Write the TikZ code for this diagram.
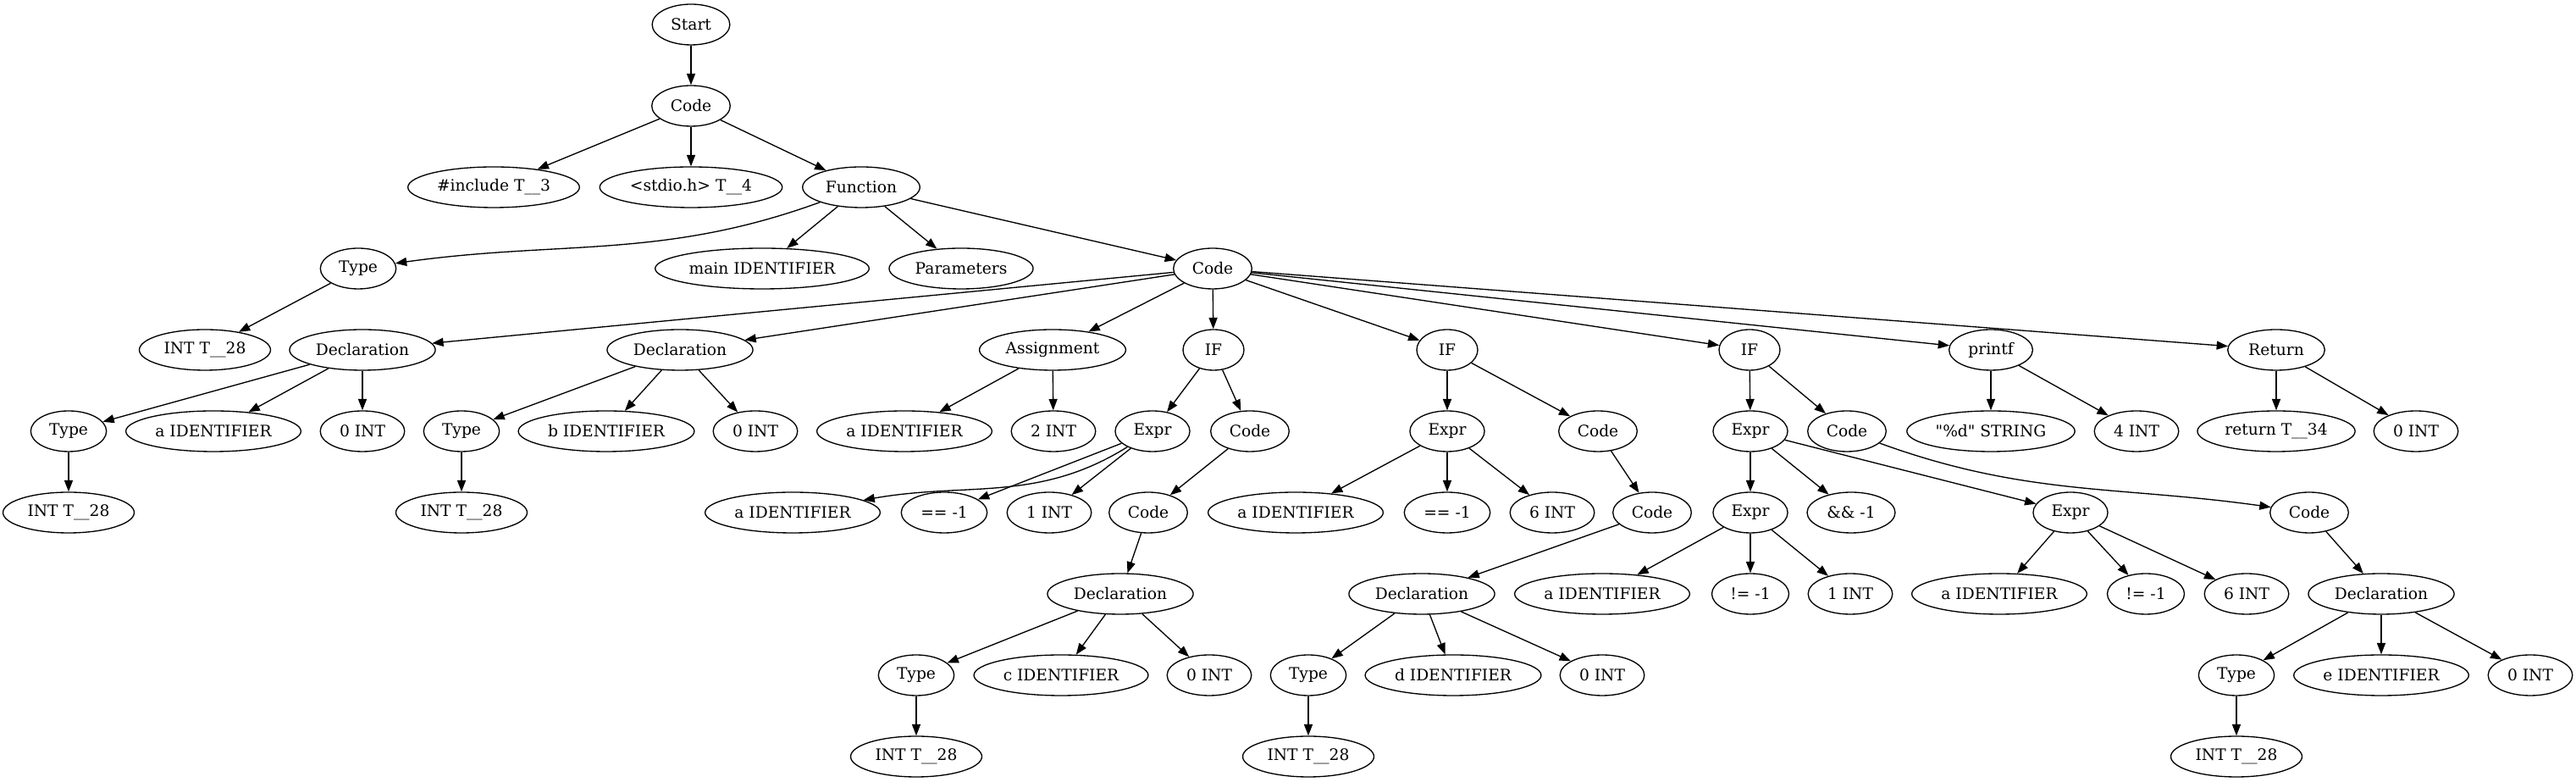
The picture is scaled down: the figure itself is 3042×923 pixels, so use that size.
\documentclass[tikz,border=0pt]{standalone}
\usepackage{fontspec}
\setmainfont{DejaVu Serif}
\usetikzlibrary{arrows.meta,shapes.geometric}
\tikzset{
  tnode/.style={draw, ellipse, line width=1pt, inner xsep=8pt, inner ysep=4pt,
    minimum width=54pt, minimum height=36pt, font=\fontsize{14pt}{16pt}\selectfont,
    execute at begin node={\setbox0=\hbox\bgroup},
    execute at end node={\egroup\hbox to 0.91\wd0{\hss\box0\hss}}},
  link/.style={-{Triangle[length=10pt,width=7.5pt]}, line width=1pt}
}
\begin{document}
\begin{tikzpicture}[x=0.75pt,y=0.75pt]
    \useasboundingbox (0,0) rectangle (3042,923);
    \node[tnode] (start) at (816,894) {Start};
    \node[tnode] (code0) at (816,798) {Code};
    \node[tnode] (incl) at (583,702) {\#include T\_\_3};
    \node[tnode] (stdio) at (816,702) {<stdio.h> T\_\_4};
    \node[tnode] (func) at (1017,702) {Function};
    \node[tnode] (type1) at (423,606) {Type};
    \node[tnode] (mainid) at (900,606) {main IDENTIFIER};
    \node[tnode] (params) at (1135,606) {Parameters};
    \node[tnode] (code1) at (1432,606) {Code};
    \node[tnode] (int1) at (242,510) {INT T\_\_28};
    \node[tnode] (decl1) at (428,510) {Declaration};
    \node[tnode] (decl2) at (803,510) {Declaration};
    \node[tnode] (assign) at (1243,510) {Assignment};
    \node[tnode] (if1) at (1433,510) {IF};
    \node[tnode] (if2) at (1709,510) {IF};
    \node[tnode] (if3) at (2066,510) {IF};
    \node[tnode] (printf) at (2351,510) {printf};
    \node[tnode] (ret) at (2688,510) {Return};
    \node[tnode] (type2) at (81,414) {Type};
    \node[tnode] (aid1) at (252,414) {a IDENTIFIER};
    \node[tnode] (zero1) at (428,414) {0 INT};
    \node[tnode] (type3) at (545,414) {Type};
    \node[tnode] (bid) at (716,414) {b IDENTIFIER};
    \node[tnode] (zero2) at (892,414) {0 INT};
    \node[tnode] (aid2) at (1068,414) {a IDENTIFIER};
    \node[tnode] (two) at (1244,414) {2 INT};
    \node[tnode] (expr1) at (1361,414) {Expr};
    \node[tnode] (codeA) at (1476,414) {Code};
    \node[tnode] (expr2) at (1709,414) {Expr};
    \node[tnode] (codeC) at (1887,414) {Code};
    \node[tnode] (expr3) at (2067,414) {Expr};
    \node[tnode] (codeE) at (2181,414) {Code};
    \node[tnode] (str) at (2351,414) {\textquotedbl\%d\textquotedbl{} STRING};
    \node[tnode] (four) at (2523,414) {4 INT};
    \node[tnode] (retv) at (2688,414) {return T\_\_34};
    \node[tnode] (zero6) at (2853,414) {0 INT};
    \node[tnode] (int2) at (81,318) {INT T\_\_28};
    \node[tnode] (int3) at (545,318) {INT T\_\_28};
    \node[tnode] (aid3) at (936,318) {a IDENTIFIER};
    \node[tnode] (eq1) at (1115,318) {== -1};
    \node[tnode] (one1) at (1239,318) {1 INT};
    \node[tnode] (codeB) at (1356,318) {Code};
    \node[tnode] (aid4) at (1530,318) {a IDENTIFIER};
    \node[tnode] (eq2) at (1709,318) {== -1};
    \node[tnode] (six1) at (1833,318) {6 INT};
    \node[tnode] (codeD) at (1951,318) {Code};
    \node[tnode] (expr4) at (2067,318) {Expr};
    \node[tnode] (and1) at (2186,318) {\&\& -1};
    \node[tnode] (expr5) at (2445,318) {Expr};
    \node[tnode] (codeF) at (2727,318) {Code};
    \node[tnode] (decl3) at (1323,222) {Declaration};
    \node[tnode] (decl4) at (1679,222) {Declaration};
    \node[tnode] (aid5) at (1892,222) {a IDENTIFIER};
    \node[tnode] (ne1) at (2067,222) {!= -1};
    \node[tnode] (one2) at (2185,222) {1 INT};
    \node[tnode] (aid6) at (2361,222) {a IDENTIFIER};
    \node[tnode] (ne2) at (2534,222) {!= -1};
    \node[tnode] (six2) at (2653,222) {6 INT};
    \node[tnode] (decl5) at (2812,222) {Declaration};
    \node[tnode] (type4) at (1082,126) {Type};
    \node[tnode] (cid) at (1253,126) {c IDENTIFIER};
    \node[tnode] (zero3) at (1428,126) {0 INT};
    \node[tnode] (type5) at (1545,126) {Type};
    \node[tnode] (did) at (1716,126) {d IDENTIFIER};
    \node[tnode] (zero4) at (1892,126) {0 INT};
    \node[tnode] (type6) at (2641,126) {Type};
    \node[tnode] (eid) at (2812,126) {e IDENTIFIER};
    \node[tnode] (zero5) at (2988,126) {0 INT};
    \node[tnode] (int4) at (1082,30) {INT T\_\_28};
    \node[tnode] (int5) at (1545,30) {INT T\_\_28};
    \node[tnode] (int6) at (2641,30) {INT T\_\_28};
    \draw[link] (start) -- (code0);
    \draw[link] (code0) -- (incl);
    \draw[link] (code0) -- (stdio);
    \draw[link] (code0) -- (func);
    \draw[link] (func) to[out=200,in=8] (type1);
    \draw[link] (func) -- (mainid);
    \draw[link] (func) -- (params);
    \draw[link] (func) -- (code1);
    \draw[link] (type1) -- (int1);
    \draw[link] (code1) -- (decl1);
    \draw[link] (code1) -- (decl2);
    \draw[link] (code1) -- (assign);
    \draw[link] (code1) -- (if1);
    \draw[link] (code1) -- (if2);
    \draw[link] (code1) -- (if3);
    \draw[link] (code1) -- (printf);
    \draw[link] (code1) -- (ret);
    \draw[link] (decl1) -- (type2);
    \draw[link] (decl1) -- (aid1);
    \draw[link] (decl1) -- (zero1);
    \draw[link] (type2) -- (int2);
    \draw[link] (decl2) -- (type3);
    \draw[link] (decl2) -- (bid);
    \draw[link] (decl2) -- (zero2);
    \draw[link] (type3) -- (int3);
    \draw[link] (assign) -- (aid2);
    \draw[link] (assign) -- (two);
    \draw[link] (if1) -- (expr1);
    \draw[link] (if1) -- (codeA);
    \draw[link] (expr1) to[out=212,in=10] (aid3);
    \draw[link] (expr1) -- (eq1);
    \draw[link] (expr1) -- (one1);
    \draw[link] (codeA) -- (codeB);
    \draw[link] (codeB) -- (decl3);
    \draw[link] (decl3) -- (type4);
    \draw[link] (decl3) -- (cid);
    \draw[link] (decl3) -- (zero3);
    \draw[link] (type4) -- (int4);
    \draw[link] (if2) -- (expr2);
    \draw[link] (if2) -- (codeC);
    \draw[link] (expr2) -- (aid4);
    \draw[link] (expr2) -- (eq2);
    \draw[link] (expr2) -- (six1);
    \draw[link] (codeC) -- (codeD);
    \draw[link] (codeD) -- (decl4);
    \draw[link] (decl4) -- (type5);
    \draw[link] (decl4) -- (did);
    \draw[link] (decl4) -- (zero4);
    \draw[link] (type5) -- (int5);
    \draw[link] (if3) -- (expr3);
    \draw[link] (if3) -- (codeE);
    \draw[link] (expr3) -- (expr4);
    \draw[link] (expr3) -- (and1);
    \draw[link] (expr3) -- (expr5);
    \draw[link] (expr4) -- (aid5);
    \draw[link] (expr4) -- (ne1);
    \draw[link] (expr4) -- (one2);
    \draw[link] (expr5) -- (aid6);
    \draw[link] (expr5) -- (ne2);
    \draw[link] (expr5) -- (six2);
    \draw[link] (codeE) to[out=-20,in=172] (codeF);
    \draw[link] (codeF) -- (decl5);
    \draw[link] (decl5) -- (type6);
    \draw[link] (decl5) -- (eid);
    \draw[link] (decl5) -- (zero5);
    \draw[link] (type6) -- (int6);
    \draw[link] (printf) -- (str);
    \draw[link] (printf) -- (four);
    \draw[link] (ret) -- (retv);
    \draw[link] (ret) -- (zero6);
\end{tikzpicture}
\end{document}
